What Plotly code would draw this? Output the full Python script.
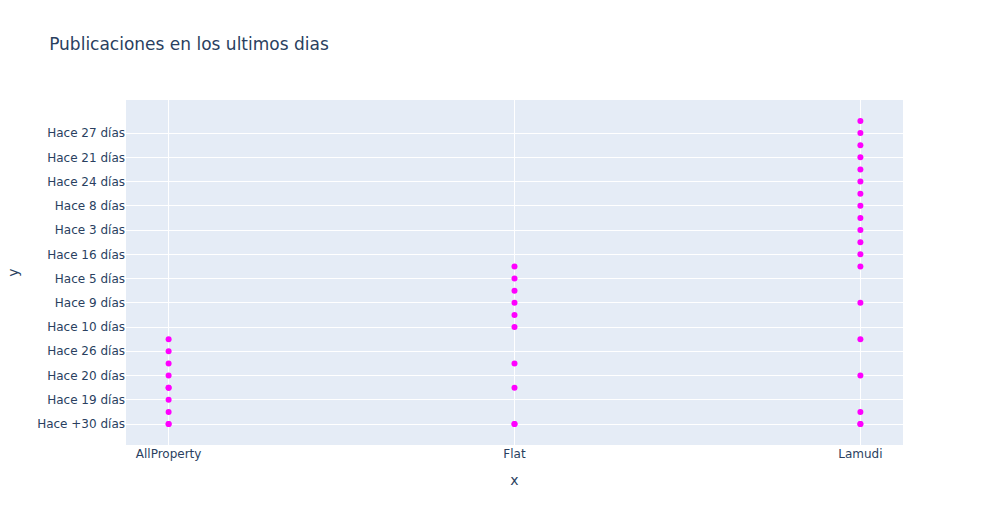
import plotly.graph_objects as go

categories = [
    "Hace +30 días", "Hace 29 días", "Hace 19 días", "Hace 22 días",
    "Hace 20 días", "Hace 25 días", "Hace 26 días", "Hace 28 días",
    "Hace 10 días", "Hace 11 días", "Hace 9 días", "Hace 7 días",
    "Hace 5 días", "Hace 4 días", "Hace 16 días", "Hace 2 días",
    "Hace 3 días", "Hace 15 días", "Hace 8 días", "Hace 12 días",
    "Hace 24 días", "Hace 13 días", "Hace 21 días", "Hace 14 días",
    "Hace 27 días", "Hace 6 días",
]

allproperty_idx = [0, 0, 1, 2, 3, 3, 4, 5, 6, 7]
flat_idx = [0, 0, 3, 5, 8, 9, 10, 11, 12, 13]
lamudi_idx = [0, 0, 1, 4, 7, 10, 13, 14, 15, 16, 17, 18, 19, 20, 21, 22, 23, 24, 25]

sites = ["AllProperty", "Flat", "Lamudi"]

x = []
y = []
for site, idxs in zip(sites, [allproperty_idx, flat_idx, lamudi_idx]):
    for i in idxs:
        x.append(site)
        y.append(categories[i])

fig = go.Figure(go.Scatter(x=x, y=y, mode="markers", marker=dict(color="magenta", size=6)))
fig.update_layout(
    title="Publicaciones en los ultimos dias",
    width=983, height=525,
    font=dict(family="DejaVu Sans"),
    xaxis=dict(title="x", type="category", categoryorder="array", categoryarray=sites),
    yaxis=dict(title="y", type="category", categoryorder="array", categoryarray=categories),
)
fig.write_html("out.html")
